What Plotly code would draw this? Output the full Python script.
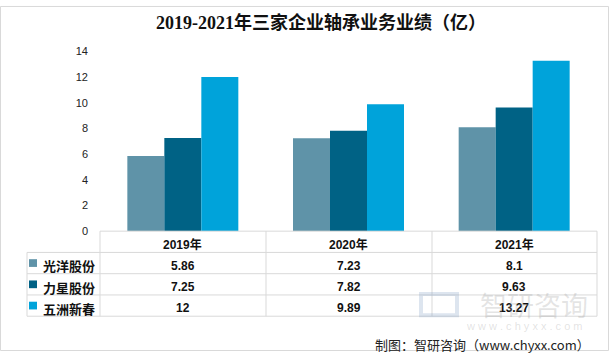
import plotly.graph_objects as go

W, H = 609, 357

title = "2019-2021年三家企业轴承业务业绩（亿）"
categories = ["2019年", "2020年", "2021年"]
series_names = ["光洋股份", "力星股份", "五洲新春"]
guangyang = [5.86, 7.23, 8.1]
lixing = [7.25, 7.82, 9.63]
wuzhou = [12, 9.89, 13.27]
value_labels = [["5.86", "7.23", "8.1"], ["7.25", "7.82", "9.63"], ["12", "9.89", "13.27"]]
y_ticks = [0, 2, 4, 6, 8, 10, 12, 14]
colors = ["#5f93a8", "#006285", "#00a3da"]
footer = "制图：智研咨询（www.chyxx.com）"


def px(x):
    return x / W


def py(y):
    return 1 - y / H


series = [guangyang, lixing, wuzhou]
fig = go.Figure()
for name, vals, c in zip(series_names, series, colors):
    fig.add_trace(go.Bar(x=categories, y=vals, name=name, hoverinfo="skip",
                         marker=dict(color=c, line=dict(width=0))))

X0, X1 = 100, 597
Y0, Y1 = 233, 47

fig.update_layout(
    width=W, height=H,
    margin=dict(l=0, r=0, t=0, b=0),
    paper_bgcolor="white", plot_bgcolor="white",
    barmode="group", bargap=0.33, bargroupgap=0,
    showlegend=False,
    xaxis=dict(domain=[px(X0), px(X1)], showticklabels=False, showgrid=False,
               zeroline=False, showline=False, ticks=""),
    yaxis=dict(domain=[py(Y0), py(Y1)], range=[0, 14], tickvals=y_ticks,
               showgrid=False, zeroline=False, showline=False, ticks="",
               ticklabelstandoff=11,
               tickfont=dict(family="Liberation Sans, Arial", size=11, color="#222")),
    font=dict(family="Noto Sans CJK SC"),
)

shapes = []
grid = "#d9d9d9"
# table horizontal lines
row_edges = [233, 255, 277, 299, 321]
for i, y in enumerate(row_edges):
    xl = X0 if i == 0 else 27
    shapes.append(dict(type="line", xref="paper", yref="paper", x0=px(xl), x1=px(X1),
                       y0=py(y), y1=py(y), line=dict(color=grid, width=1)))
for x in [100, 266, 432, 597]:
    shapes.append(dict(type="line", xref="paper", yref="paper", x0=px(x), x1=px(x),
                       y0=py(233), y1=py(321), line=dict(color=grid, width=1)))
shapes.append(dict(type="line", xref="paper", yref="paper", x0=px(27), x1=px(27),
                   y0=py(255), y1=py(321), line=dict(color=grid, width=1)))
# outer border
shapes.append(dict(type="rect", xref="paper", yref="paper", x0=px(0.5), x1=px(608.5),
                   y0=py(356.5), y1=py(0.5), line=dict(color="#d9d9d9", width=1)))

annotations = []
annotations.append(dict(text="<b>" + title + "</b>", x=px(321), y=py(17), xref="paper", yref="paper",
                        showarrow=False, xanchor="center", yanchor="middle",
                        font=dict(family="Liberation Serif, Noto Sans CJK SC", size=18, color="#111")))
# header
for cat in categories:
    annotations.append(dict(text="<b>" + cat + "</b>", x=cat, y=py(247), xref="x", yref="paper",
                            showarrow=False, xanchor="center", yanchor="middle",
                            font=dict(family="Liberation Sans, Noto Sans CJK SC", size=12, color="#111")))
# rows
row_centers = [269, 291, 313]
for r, (name, c, labels) in enumerate(zip(series_names, colors, value_labels)):
    yc = row_centers[r]
    shapes.append(dict(type="rect", xref="paper", yref="paper", x0=px(29), x1=px(37),
                       y0=py(yc + 1), y1=py(yc - 7), line=dict(width=0), fillcolor=c))
    annotations.append(dict(text="<b>" + name + "</b>", x=px(41), y=py(yc), xref="paper", yref="paper",
                            showarrow=False, xanchor="left", yanchor="middle",
                            font=dict(family="Noto Sans CJK SC", size=13, color="#111")))
    for cat, lab in zip(categories, labels):
        annotations.append(dict(text="<b>" + lab + "</b>", x=cat, y=py(yc), xref="x", yref="paper",
                                showarrow=False, xanchor="center", yanchor="middle",
                                font=dict(family="Liberation Sans, Arial", size=12, color="#111")))

# watermark (faint, behind)
annotations.append(dict(text="智研咨询", x=px(590), y=py(309), xref="paper", yref="paper",
                        showarrow=False, xanchor="right", yanchor="middle",
                        font=dict(family="Noto Sans CJK SC", size=27, color="rgba(160,160,160,0.28)")))
annotations.append(dict(text="w w w . c h y x x . c o m", x=px(585), y=py(331), xref="paper", yref="paper",
                        showarrow=False, xanchor="right", yanchor="middle",
                        font=dict(family="Liberation Sans", size=11, color="rgba(160,160,160,0.3)")))
shapes.append(dict(type="rect", xref="paper", yref="paper", x0=px(421), x1=px(457),
                   y0=py(320), y1=py(298), line=dict(color="rgba(120,150,190,0.25)", width=4),
                   fillcolor="rgba(0,0,0,0)"))
# footer
annotations.append(dict(text=footer, x=px(592), y=py(350), xref="paper", yref="paper",
                        showarrow=False, xanchor="right", yanchor="middle",
                        font=dict(family="Noto Sans CJK SC", size=13, color="#222")))

fig.update_layout(shapes=shapes, annotations=annotations)
fig.write_html("out.html", config={"displayModeBar": False},
               post_script="document.body.style.margin='0px';document.body.style.padding='0px';")
